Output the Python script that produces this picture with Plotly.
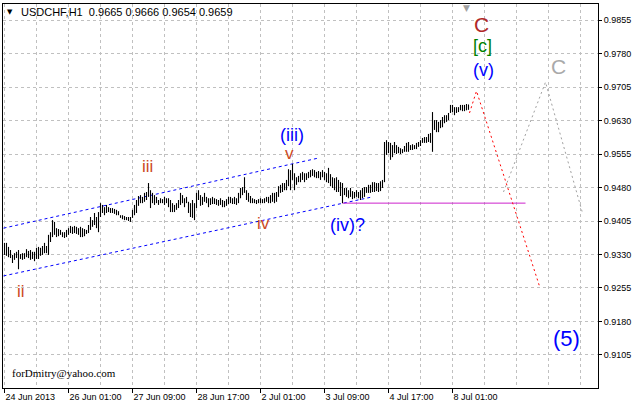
import plotly.graph_objects as go

# ---- bar data (USDCHF H1, bar index 0 = 24 Jun 2013 00:00) ----
high = [
    0.9356, 0.9356, 0.9347, 0.9340, 0.9329, 0.9333, 0.9336, 0.9340, 0.9331, 0.9333,
    0.9333, 0.9342, 0.9338, 0.9340, 0.9336, 0.9336, 0.9345, 0.9347, 0.9345, 0.9349,
    0.9356, 0.9349, 0.9374, 0.9380, 0.9407, 0.9403, 0.9389, 0.9387, 0.9385, 0.9380,
    0.9380, 0.9385, 0.9389, 0.9394, 0.9392, 0.9394, 0.9392, 0.9389, 0.9392, 0.9389,
    0.9387, 0.9385, 0.9396, 0.9414, 0.9407, 0.9423, 0.9414, 0.9425, 0.9445, 0.9441,
    0.9436, 0.9441, 0.9436, 0.9434, 0.9434, 0.9432, 0.9430, 0.9427, 0.9418, 0.9418,
    0.9416, 0.9414, 0.9414, 0.9414, 0.9430, 0.9441, 0.9452, 0.9461, 0.9463, 0.9459,
    0.9468, 0.9470, 0.9490, 0.9474, 0.9468, 0.9463, 0.9459, 0.9452, 0.9456, 0.9454,
    0.9459, 0.9456, 0.9456, 0.9452, 0.9445, 0.9441, 0.9445, 0.9452, 0.9468, 0.9463,
    0.9456, 0.9459, 0.9448, 0.9445, 0.9452, 0.9445, 0.9468, 0.9474, 0.9463, 0.9459,
    0.9468, 0.9459, 0.9456, 0.9456, 0.9459, 0.9456, 0.9454, 0.9452, 0.9456, 0.9452,
    0.9450, 0.9454, 0.9459, 0.9459, 0.9456, 0.9459, 0.9456, 0.9468, 0.9479, 0.9481,
    0.9503, 0.9474, 0.9468, 0.9461, 0.9456, 0.9454, 0.9452, 0.9454, 0.9456, 0.9454,
    0.9456, 0.9459, 0.9459, 0.9463, 0.9468, 0.9468, 0.9470, 0.9483, 0.9486, 0.9490,
    0.9490, 0.9497, 0.9521, 0.9519, 0.9533, 0.9512, 0.9503, 0.9506, 0.9512, 0.9515,
    0.9512, 0.9512, 0.9515, 0.9519, 0.9521, 0.9519, 0.9515, 0.9517, 0.9515, 0.9519,
    0.9515, 0.9512, 0.9524, 0.9510, 0.9503, 0.9501, 0.9503, 0.9497, 0.9492, 0.9490,
    0.9479, 0.9479, 0.9474, 0.9479, 0.9472, 0.9470, 0.9474, 0.9470, 0.9474, 0.9479,
    0.9481, 0.9481, 0.9486, 0.9486, 0.9492, 0.9492, 0.9490, 0.9490, 0.9494, 0.9497,
    0.9582, 0.9586, 0.9582, 0.9580, 0.9575, 0.9582, 0.9575, 0.9571, 0.9568, 0.9566,
    0.9573, 0.9580, 0.9582, 0.9575, 0.9577, 0.9575, 0.9580, 0.9582, 0.9586, 0.9591,
    0.9593, 0.9593, 0.9600, 0.9602, 0.9649, 0.9631, 0.9631, 0.9627, 0.9631, 0.9638,
    0.9642, 0.9642, 0.9647, 0.9665, 0.9665, 0.9660, 0.9660, 0.9660, 0.9665, 0.9665,
    0.9665, 0.9667, 0.9666,
]
low = [
    0.9329, 0.9327, 0.9324, 0.9322, 0.9311, 0.9318, 0.9322, 0.9297, 0.9320, 0.9318,
    0.9320, 0.9324, 0.9322, 0.9318, 0.9320, 0.9315, 0.9320, 0.9320, 0.9327, 0.9329,
    0.9333, 0.9333, 0.9329, 0.9358, 0.9369, 0.9374, 0.9369, 0.9371, 0.9374, 0.9369,
    0.9367, 0.9369, 0.9374, 0.9378, 0.9376, 0.9378, 0.9376, 0.9374, 0.9369, 0.9369,
    0.9371, 0.9376, 0.9378, 0.9385, 0.9392, 0.9396, 0.9389, 0.9380, 0.9414, 0.9423,
    0.9418, 0.9423, 0.9425, 0.9423, 0.9423, 0.9421, 0.9418, 0.9418, 0.9412, 0.9409,
    0.9407, 0.9407, 0.9405, 0.9403, 0.9412, 0.9418, 0.9423, 0.9439, 0.9445, 0.9445,
    0.9448, 0.9452, 0.9459, 0.9434, 0.9445, 0.9441, 0.9445, 0.9441, 0.9445, 0.9445,
    0.9441, 0.9445, 0.9436, 0.9425, 0.9425, 0.9425, 0.9430, 0.9434, 0.9441, 0.9445,
    0.9436, 0.9445, 0.9423, 0.9414, 0.9412, 0.9407, 0.9434, 0.9452, 0.9439, 0.9441,
    0.9448, 0.9445, 0.9436, 0.9441, 0.9443, 0.9443, 0.9441, 0.9439, 0.9441, 0.9436,
    0.9436, 0.9439, 0.9443, 0.9445, 0.9443, 0.9443, 0.9441, 0.9445, 0.9456, 0.9463,
    0.9468, 0.9452, 0.9448, 0.9445, 0.9445, 0.9445, 0.9443, 0.9445, 0.9445, 0.9445,
    0.9445, 0.9448, 0.9445, 0.9445, 0.9448, 0.9445, 0.9448, 0.9459, 0.9468, 0.9470,
    0.9474, 0.9474, 0.9483, 0.9474, 0.9497, 0.9474, 0.9486, 0.9492, 0.9492, 0.9497,
    0.9492, 0.9497, 0.9501, 0.9503, 0.9506, 0.9503, 0.9501, 0.9501, 0.9497, 0.9503,
    0.9497, 0.9492, 0.9490, 0.9483, 0.9479, 0.9474, 0.9470, 0.9470, 0.9461, 0.9445,
    0.9463, 0.9459, 0.9456, 0.9459, 0.9454, 0.9456, 0.9459, 0.9456, 0.9452, 0.9456,
    0.9459, 0.9468, 0.9468, 0.9468, 0.9470, 0.9470, 0.9472, 0.9470, 0.9472, 0.9479,
    0.9492, 0.9553, 0.9557, 0.9542, 0.9548, 0.9557, 0.9555, 0.9557, 0.9555, 0.9557,
    0.9560, 0.9560, 0.9560, 0.9564, 0.9564, 0.9566, 0.9566, 0.9571, 0.9573, 0.9580,
    0.9580, 0.9580, 0.9582, 0.9580, 0.9560, 0.9609, 0.9604, 0.9604, 0.9613, 0.9615,
    0.9624, 0.9627, 0.9631, 0.9647, 0.9649, 0.9642, 0.9647, 0.9649, 0.9653, 0.9651,
    0.9651, 0.9653, 0.9654,
]

date_labels = ["24 Jun 2013", "26 Jun 01:00", "27 Jun 09:00", "28 Jun 17:00",
               "2 Jul 01:00", "3 Jul 09:00", "4 Jul 17:00", "8 Jul 01:00"]
bars_per_label = 32
price_ticks = [0.9105, 0.9180, 0.9255, 0.9330, 0.9405, 0.9480,
               0.9555, 0.9630, 0.9705, 0.9780, 0.9855]

# analyst drawings (bar index, price)
channel_upper_x = [-0.5, 157]
channel_upper_y = [0.9389, 0.9546]
channel_lower_x = [-0.5, 184]
channel_lower_y = [0.9282, 0.9459]
level_x = [169, 260.5]
level_y = [0.9445, 0.9445]
red_path_x = [232.5, 236, 267.5]
red_path_y = [0.9647, 0.9696, 0.9259]
gray_path_x = [249.5, 270.5, 289]
gray_path_y = [0.9470, 0.9716, 0.9423]

# wave labels: (text, bar index, price, colour, size)
wave_labels = [
    ("ii", 8.25, 0.9248, "#CC4A1E", 17),
    ("iii", 71.5, 0.9526, "#CC4A1E", 17),
    ("iv", 129.5, 0.9400, "#CC4A1E", 17),
    ("v", 142.5, 0.9557, "#CC4A1E", 17),
    ("(iii)", 143.5, 0.9597, "#0000FF", 18),
    ("(iv)?", 171.25, 0.9395, "#0000FF", 18),
    ("(v)", 239.25, 0.9743, "#0000FF", 18),
    ("[c]", 239, 0.9797, "#008000", 18),
    ("C", 238.25, 0.9846, "#B02828", 21),
    ("C", 276.75, 0.9750, "#A9A9A9", 21),
    ("(5)", 281, 0.9141, "#0000FF", 22),
]

# ---- build figure ----
bx, by = [], []
for i, (h, l) in enumerate(zip(high, low)):
    bx += [i, i, None]
    by += [l, h, None]

fig = go.Figure()
fig.add_trace(go.Scatter(x=channel_upper_x, y=channel_upper_y, mode="lines",
                         line=dict(color="#0000FF", width=1, dash="3px,3px")))
fig.add_trace(go.Scatter(x=channel_lower_x, y=channel_lower_y, mode="lines",
                         line=dict(color="#0000FF", width=1, dash="3px,3px")))
fig.add_trace(go.Scatter(x=level_x, y=level_y, mode="lines",
                         line=dict(color="#CC22CC", width=1)))
fig.add_trace(go.Scatter(x=bx, y=by, mode="lines",
                         line=dict(color="black", width=1.1)))
fig.add_trace(go.Scatter(x=red_path_x, y=red_path_y, mode="lines",
                         line=dict(color="#FF0000", width=1, dash="2px,3px")))
fig.add_trace(go.Scatter(x=gray_path_x, y=gray_path_y, mode="lines",
                         line=dict(color="#A0A0A0", width=1, dash="2px,3px")))

for text, xi, yp, col, sz in wave_labels:
    fig.add_annotation(x=xi, y=yp, text=text, showarrow=False,
                       font=dict(family="Liberation Sans, Arial", size=sz, color=col),
                       xanchor="center", yanchor="middle")

fig.add_annotation(xref="paper", yref="paper", x=0.0118, y=0.979, text="▼",
                   showarrow=False, xanchor="center", yanchor="middle",
                   font=dict(family="DejaVu Sans", size=7, color="black"))
fig.add_annotation(xref="paper", yref="paper", x=0.0269, y=0.979,
                   text="USDCHF,H1  0.9665 0.9666 0.9654 0.9659",
                   showarrow=False, xanchor="left", yanchor="middle",
                   font=dict(family="Liberation Sans, Arial", size=11, color="black"))
fig.add_annotation(xref="paper", yref="paper", x=0.0118, y=0.039,
                   text="forDmitry@yahoo.com",
                   showarrow=False, xanchor="left", yanchor="middle",
                   font=dict(family="Liberation Serif, Times New Roman", size=11, color="black"))
fig.add_annotation(xref="x", yref="paper", x=231, y=0.99, text="▼",
                   showarrow=False, xanchor="center", yanchor="middle",
                   font=dict(family="DejaVu Sans", size=9, color="#A0A0A0"))

major = [k * bars_per_label for k in range(len(date_labels))]
minor = [v for v in range(bars_per_label // 2, 297, bars_per_label // 2) if v not in major]

fig.update_layout(
    width=632, height=406,
    margin=dict(l=3, r=34, t=4, b=18),
    paper_bgcolor="white", plot_bgcolor="white",
    showlegend=False,
    xaxis=dict(range=[-0.75, 296.75], tickvals=major, ticktext=date_labels,
               ticks="outside", ticklen=4, tickcolor="black",
               ticklabelposition="outside right",
               tickfont=dict(family="Liberation Sans, Arial", size=9, color="black"),
               showgrid=True, gridcolor="#C0C0C0", griddash="3px,3px", gridwidth=1,
               minor=dict(tickvals=minor, showgrid=True, gridcolor="#C0C0C0",
                          griddash="3px,3px", ticklen=0),
               showline=True, linecolor="black", linewidth=1, mirror=True,
               zeroline=False, automargin=False),
    yaxis=dict(range=[0.9031, 0.9891], side="right", tickvals=price_ticks,
               tickformat=".4f", ticks="outside", ticklen=3, tickcolor="black",
               tickfont=dict(family="Liberation Sans, Arial", size=9, color="black"),
               showgrid=True, gridcolor="#C0C0C0", griddash="3px,3px", gridwidth=1,
               showline=True, linecolor="black", linewidth=1, mirror=True,
               zeroline=False, automargin=False),
)

fig.write_html("out.html", config={"displayModeBar": False},
               post_script="document.body.style.margin='0';document.body.style.overflow='hidden';")
